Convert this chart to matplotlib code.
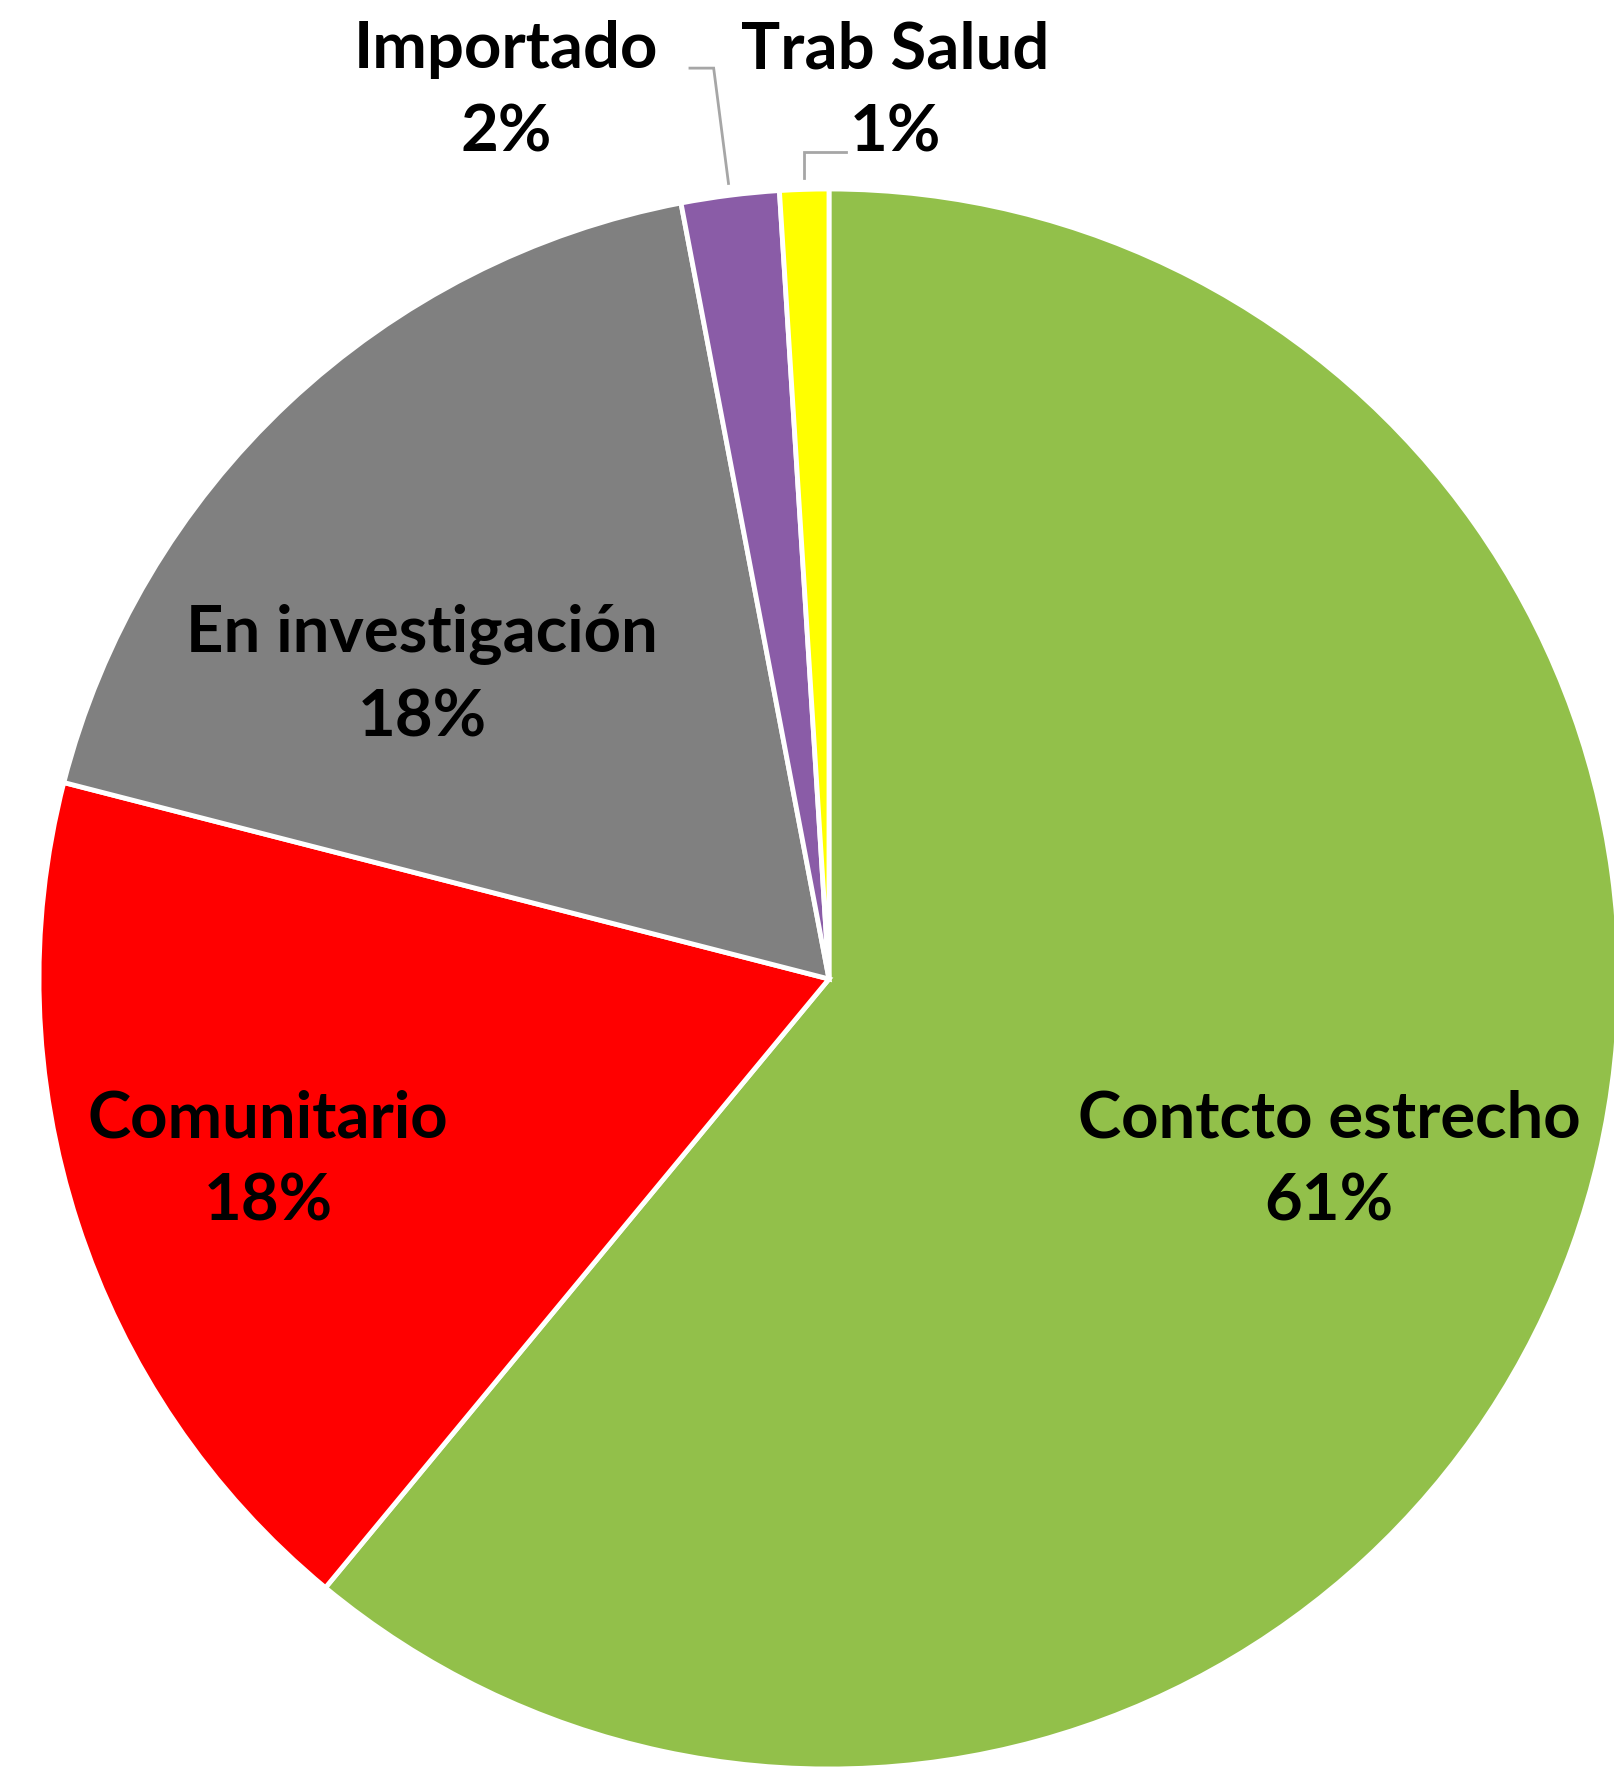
import numpy as np
import matplotlib
matplotlib.use('Agg')
import matplotlib.pyplot as plt

# datos del grafico
categorias = ['Contcto estrecho', 'Comunitario', 'En investigación', 'Importado', 'Trab Salud']
valores = [61, 18, 18, 2, 1]
colores = ['#92C04A', '#FF0000', '#808080', '#8A5CA7', '#FFFF00']

# posicion de las etiquetas (centro del texto, radio del pie = 1)
pos_etiquetas = [(0.633, -0.230), (-0.710, -0.230), (-0.515, 0.384), (-0.409, 1.124), (0.084, 1.124)]

plt.rcParams['font.family'] = ['Lato', 'DejaVu Sans']

W, H = 1614, 1769
fig = plt.figure(figsize=(W / 100, H / 100), dpi=100)
ax = fig.add_axes([0, 0, 1, 1])

cx, cy, rad = 829, 979, 790  # pixeles

wedges, _ = ax.pie(valores, colors=colores, startangle=90, counterclock=False,
                   radius=1, center=(0, 0), frame=True,
                   wedgeprops=dict(edgecolor='white', linewidth=3.5))
ax.set_xlim(-cx / rad, (W - cx) / rad)
ax.set_ylim(-(H - cy) / rad, cy / rad)
ax.set_aspect('equal')
ax.axis('off')

total = sum(valores)
for i, (cat, v) in enumerate(zip(categorias, valores)):
    x, y = pos_etiquetas[i]
    ax.text(x, y, '%s\n%d%%' % (cat, round(v / total * 100)), ha='center', va='center',
            multialignment='center', fontsize=47, fontweight='bold', color='black',
            linespacing=1.5)

# lineas guia para las porciones pequenas
def punto_borde(w, r=1.015):
    ang = np.deg2rad((w.theta1 + w.theta2) / 2)
    return np.cos(ang) * r, np.sin(ang) * r

px, py = punto_borde(wedges[3])
ax.plot([-0.176, -0.146, px], [1.153, 1.153, py], color='#A6A6A6', lw=2, solid_joinstyle='miter')
px, py = punto_borde(wedges[4])
ax.plot([0.0215, px, px], [1.047, 1.047, py], color='#A6A6A6', lw=2, solid_joinstyle='miter')

fig.savefig('out.png', dpi=100, facecolor='white')
